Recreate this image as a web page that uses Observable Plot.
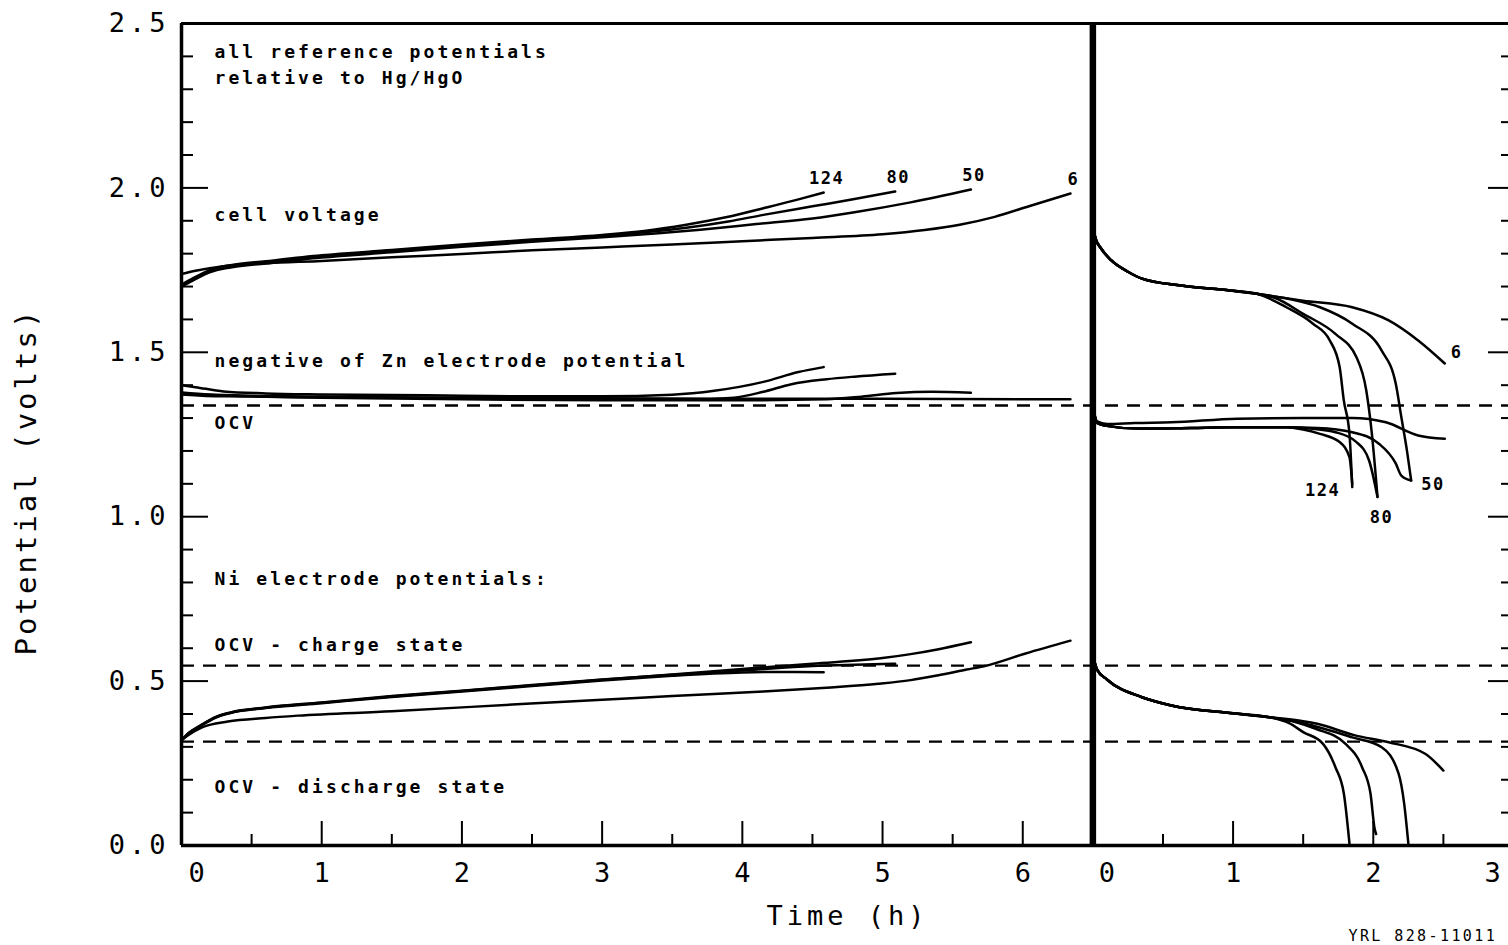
<!DOCTYPE html>
<html>
<head>
<meta charset="utf-8">
<script src="https://cdn.jsdelivr.net/npm/d3@7"></script>
<script src="https://cdn.jsdelivr.net/npm/@observablehq/plot@0.6"></script>
<style>
html, body { margin: 0; padding: 0; background: #fff; overflow: hidden; }
#chart svg { display: block; background: #fff; }
</style>
</head>
<body>
<div id="chart"></div>
<script>
// ---------------- DATA (time in h, potential in V) ----------------
const cycles = ["124", "80", "50", "6"];

// Charge: cell voltage
const cellCharge124 = [[0,1.706],[0.08,1.725],[0.2,1.75],[0.35,1.765],[0.6,1.777],[1,1.795],[1.5,1.811],[2,1.828],[2.5,1.843],[3,1.857],[3.3,1.869],[3.6,1.888],[3.9,1.912],[4.15,1.938],[4.4,1.965],[4.58,1.986]];
const cellCharge80  = [[0,1.703],[0.08,1.722],[0.2,1.747],[0.35,1.762],[0.6,1.774],[1,1.792],[1.5,1.808],[2,1.825],[2.5,1.84],[3,1.854],[3.3,1.865],[3.6,1.879],[3.9,1.898],[4.15,1.918],[4.5,1.944],[4.8,1.966],[5.09,1.989]];
const cellCharge50  = [[0,1.70],[0.08,1.718],[0.2,1.743],[0.35,1.758],[0.6,1.77],[1,1.788],[1.5,1.804],[2,1.821],[2.5,1.836],[3,1.85],[3.4,1.862],[3.7,1.873],[4.1,1.89],[4.5,1.907],[4.8,1.926],[5.2,1.956],[5.63,1.995]];
const cellCharge6   = [[0,1.738],[0.1,1.748],[0.3,1.762],[0.6,1.771],[1,1.778],[1.5,1.789],[2,1.799],[2.5,1.81],[3,1.819],[3.5,1.828],[4,1.838],[4.5,1.848],[5,1.859],[5.3,1.872],[5.55,1.888],[5.8,1.912],[6.05,1.945],[6.34,1.983]];

// Charge: negative of Zn electrode potential
const znCharge124 = [[0,1.40],[0.1,1.394],[0.3,1.381],[0.6,1.375],[1,1.372],[1.5,1.37],[2,1.368],[2.5,1.366],[3,1.366],[3.5,1.371],[3.8,1.383],[4.15,1.41],[4.4,1.44],[4.58,1.455]];
const znCharge80  = [[0,1.378],[0.2,1.372],[0.5,1.368],[1,1.365],[2,1.36],[3,1.356],[3.6,1.356],[3.94,1.362],[4.15,1.38],[4.35,1.403],[4.6,1.418],[4.8,1.426],[5.09,1.435]];
const znCharge50  = [[0,1.375],[0.2,1.37],[0.5,1.366],[1,1.362],[2,1.357],[3,1.354],[4,1.354],[4.6,1.357],[4.85,1.365],[5.1,1.376],[5.35,1.38],[5.63,1.377]];
const znCharge6   = [[0,1.372],[0.3,1.366],[1,1.364],[2,1.362],[3,1.36],[4,1.359],[5,1.359],[6.34,1.357]];

// Charge: Ni electrode potential
const niCharge124 = [[0,0.32],[0.05,0.34],[0.13,0.362],[0.25,0.39],[0.35,0.403],[0.6,0.418],[1,0.433],[1.5,0.452],[2,0.468],[2.5,0.485],[3,0.502],[3.5,0.516],[4,0.526],[4.3,0.528],[4.58,0.527]];
const niCharge80  = [[0,0.32],[0.05,0.342],[0.13,0.364],[0.25,0.392],[0.35,0.405],[0.6,0.42],[1,0.435],[1.5,0.455],[2,0.471],[2.5,0.488],[3,0.505],[3.5,0.519],[4,0.532],[4.5,0.546],[4.8,0.55],[5.09,0.553]];
const niCharge50  = [[0,0.32],[0.05,0.341],[0.13,0.363],[0.25,0.391],[0.35,0.404],[0.6,0.419],[1,0.434],[1.5,0.453],[2,0.47],[2.5,0.487],[3,0.504],[3.5,0.52],[4,0.537],[4.5,0.553],[5,0.57],[5.2,0.582],[5.4,0.597],[5.63,0.618]];
const niCharge6   = [[0,0.32],[0.05,0.336],[0.15,0.36],[0.33,0.377],[0.6,0.388],[0.83,0.395],[1.5,0.408],[2.49,0.432],[3,0.443],[3.5,0.455],[4.15,0.468],[4.6,0.48],[4.97,0.492],[5.2,0.503],[5.39,0.517],[5.6,0.535],[5.73,0.546],[6.02,0.584],[6.34,0.623]];

// Discharge: cell voltage
const cellDisStart = [[0,1.88],[0.02,1.845],[0.06,1.815],[0.13,1.78],[0.25,1.745],[0.35,1.724],[0.63,1.703],[0.98,1.688],[1.17,1.678]];
const cellDis124 = [...cellDisStart, [1.38,1.637],[1.57,1.587],[1.69,1.536],[1.76,1.455],[1.79,1.353],[1.83,1.252],[1.85,1.09]];
const cellDis80  = [...cellDisStart, [1.3,1.665],[1.5,1.617],[1.73,1.556],[1.88,1.485],[1.95,1.384],[1.99,1.252],[2.03,1.06]];
const cellDis50  = [...cellDisStart, [1.4,1.662],[1.62,1.637],[1.85,1.587],[2.06,1.505],[2.16,1.405],[2.2,1.303],[2.24,1.201],[2.27,1.11]];
const cellDis6   = [...cellDisStart, [1.5,1.657],[1.85,1.637],[2.11,1.597],[2.32,1.536],[2.51,1.466]];

// Discharge: negative of Zn electrode potential
const znDisStart = [[0,1.335],[0.03,1.285],[0.085,1.277],[0.32,1.268],[0.7,1.27],[1.0,1.272],[1.38,1.272]];
const znDis124 = [...znDisStart, [1.5,1.265],[1.62,1.252],[1.76,1.227],[1.83,1.181],[1.85,1.10]];
const znDis80  = [...znDisStart, [1.55,1.268],[1.73,1.257],[1.88,1.227],[1.97,1.171],[2.03,1.06]];
const znDis50  = [...znDisStart, [1.6,1.27],[1.85,1.257],[2.04,1.222],[2.16,1.162],[2.2,1.125],[2.27,1.11]];
const znDis6   = [[0,1.335],[0.03,1.29],[0.1,1.282],[0.3,1.285],[0.56,1.287],[1.03,1.298],[1.5,1.30],[1.85,1.30],[2.09,1.287],[2.32,1.247],[2.51,1.237]];

// Discharge: Ni electrode potential
const niDisStart = [[0,0.578],[0.03,0.535],[0.1,0.505],[0.35,0.451],[0.56,0.426],[1.0,0.402],[1.26,0.39]];
const niDis124 = [...niDisStart, [1.4,0.372],[1.5,0.345],[1.64,0.31],[1.73,0.238],[1.79,0.158],[1.83,0.006]];
const niDis80  = [...niDisStart, [1.45,0.375],[1.59,0.355],[1.8,0.31],[1.92,0.238],[1.98,0.158],[2.01,0.05],[2.02,0.035]];
const niDis50  = [...niDisStart, [1.5,0.372],[1.85,0.329],[2.06,0.299],[2.18,0.219],[2.22,0.128],[2.25,0.006]];
const niDis6   = [...niDisStart, [1.5,0.378],[1.6,0.37],[1.87,0.335],[2.11,0.314],[2.37,0.279],[2.5,0.228]];

// Reference (OCV) levels
const ocvZn = 1.338;
const ocvNiCharged = 0.547;
const ocvNiDischarged = 0.316;

// Axis ticks / labels
const yTickLabels = [0, 0.5, 1.0, 1.5, 2.0, 2.5];
const chargeTickLabels = [0, 1, 2, 3, 4, 5, 6];
const dischargeTickLabels = [0, 1, 2, 3];

const notes = ["all reference potentials", "relative to Hg/HgO", "cell voltage",
  "negative of Zn electrode potential", "OCV", "Ni electrode potentials:",
  "OCV - charge state", "OCV - discharge state"];
const xTitle = "Time (h)";
const yTitle = "Potential (volts)";
const refCode = "YRL 828-11011";

// ---------------- LAYOUT ----------------
const W = 1508, H = 945;
const mL = 181, mR = -5, mT = 23, mB = 100;
const CHARGE_SPAN = 6.5;          // hours shown in the charge panel
const X_MAX = CHARGE_SPAN + 3;    // discharge panel shows 0..3 h
const Y_MAX = 2.5;
const pxPerH = (W - mL - mR) / X_MAX;
const pxPerV = (H - mT - mB) / Y_MAX;
const hx = px => px / pxPerH;     // pixel length -> hours
const vy = px => px / pxPerV;     // pixel length -> volts

const seriesDefs = [
  ["charge","cell","124",cellCharge124],["charge","cell","80",cellCharge80],["charge","cell","50",cellCharge50],["charge","cell","6",cellCharge6],
  ["charge","zn","124",znCharge124],["charge","zn","80",znCharge80],["charge","zn","50",znCharge50],["charge","zn","6",znCharge6],
  ["charge","ni","124",niCharge124],["charge","ni","80",niCharge80],["charge","ni","50",niCharge50],["charge","ni","6",niCharge6],
  ["discharge","cell","124",cellDis124],["discharge","cell","80",cellDis80],["discharge","cell","50",cellDis50],["discharge","cell","6",cellDis6],
  ["discharge","zn","124",znDis124],["discharge","zn","80",znDis80],["discharge","zn","50",znDis50],["discharge","zn","6",znDis6],
  ["discharge","ni","124",niDis124],["discharge","ni","80",niDis80],["discharge","ni","50",niDis50],["discharge","ni","6",niDis6]
];
const rows = seriesDefs.flatMap(([panel, kind, cycle, pts]) =>
  pts.map(([t, v]) => ({key: `${panel}-${kind}-${cycle}`, panel, kind, cycle,
    x: (panel === "discharge" ? CHARGE_SPAN : 0) + t, y: v})));
const endOf = (panel, kind, cycle) => {
  const r = rows.filter(d => d.panel === panel && d.kind === kind && d.cycle === cycle);
  return r[r.length - 1];
};

// ticks
const yTicks = d3.range(1, 25).map(i => i / 10);
const yMajor = yTicks.filter(v => Math.abs(v * 2 - Math.round(v * 2)) < 1e-9);
const yMinor = yTicks.filter(v => !yMajor.includes(v));
const chargeMajor = chargeTickLabels.filter(t => t > 0);
const chargeMinor = d3.range(0, 6).map(i => i + 0.5);
const disMajor = dischargeTickLabels.filter(t => t > 0 && t < 3).map(t => CHARGE_SPAN + t);
const disMinor = [0.5, 1.5, 2.5].map(t => CHARGE_SPAN + t);

const MONO = "DejaVu Sans Mono, Liberation Mono, monospace";
const tickFont = {fontFamily: MONO, fontSize: 27, fill: "black"};
const noteFont = {fontFamily: MONO, fontSize: 18, fontWeight: "bold", fill: "black"};
const labelFont = {fontFamily: MONO, fontSize: 17, fontWeight: "bold", fill: "black"};

const noteBaselines = [57, 83, 220, 366, 428, 584, 650, 792];
const noteMarks = notes.map((s, i) => Plot.text([s], {
  frameAnchor: "top-left", text: d => d, dx: 214 - mL, dy: noteBaselines[i] - mT,
  textAnchor: "start", lineAnchor: "bottom", ...noteFont
}));

const chargeLabelMarks = cycles.map(c => {
  const e = endOf("charge", "cell", c);
  return Plot.text([e], {x: "x", y: "y", text: () => c, dx: 3, dy: -14,
    textAnchor: "middle", lineAnchor: "middle", ...labelFont});
});
const disLabelOffsets = {"6": [6, -11, "start"], "124": [-12, 3, "end"], "80": [4, 21, "middle"], "50": [10, 4, "start"]};
const disLabelMarks = cycles.map(c => {
  const e = endOf("discharge", "cell", c);
  const [dx, dy, anchor] = disLabelOffsets[c];
  return Plot.text([e], {x: "x", y: "y", text: () => c, dx, dy,
    textAnchor: anchor, lineAnchor: "middle", ...labelFont});
});

const plot = Plot.plot({
  width: W, height: H,
  marginLeft: mL, marginRight: mR, marginTop: mT, marginBottom: mB,
  x: {domain: [0, X_MAX], axis: null},
  y: {domain: [0, Y_MAX], axis: null},
  style: {background: "white", overflow: "hidden"},
  marks: [
    // OCV dashed levels
    Plot.ruleY([ocvZn, ocvNiCharged, ocvNiDischarged], {y: d => d, stroke: "black", strokeWidth: 2.4, strokeDasharray: "13,9"}),
    // curves
    Plot.line(rows, {x: "x", y: "y", z: "key", stroke: "black", strokeWidth: 2.5, curve: "monotone-x"}),
    // frame
    Plot.ruleX([0], {stroke: "black", strokeWidth: 3.5}),
    Plot.ruleY([0], {stroke: "black", strokeWidth: 3.5}),
    Plot.ruleY([Y_MAX], {stroke: "black", strokeWidth: 3}),
    Plot.ruleX([CHARGE_SPAN], {stroke: "black", strokeWidth: 6.5}),
    // left ticks
    Plot.ruleY(yMinor, {y: d => d, x1: 0, x2: hx(12), stroke: "black", strokeWidth: 2}),
    Plot.ruleY(yMajor, {y: d => d, x1: 0, x2: hx(27), stroke: "black", strokeWidth: 2}),
    // right ticks
    Plot.ruleY(yMinor, {y: d => d, x1: X_MAX - hx(12), x2: X_MAX, stroke: "black", strokeWidth: 2}),
    Plot.ruleY(yMajor, {y: d => d, x1: X_MAX - hx(25), x2: X_MAX, stroke: "black", strokeWidth: 2}),
    // bottom ticks
    Plot.ruleX([...chargeMajor, ...disMajor], {x: d => d, y1: 0, y2: vy(24), stroke: "black", strokeWidth: 2}),
    Plot.ruleX([...chargeMinor, ...disMinor], {x: d => d, y1: 0, y2: vy(11), stroke: "black", strokeWidth: 2}),
    // y tick labels
    Plot.text(yTickLabels, {x: 0, y: d => d, text: d => d.toFixed(1), dx: -12, textAnchor: "end",
      lineAnchor: "middle", ...tickFont}),
    // x tick labels (charge)
    Plot.text(chargeTickLabels.filter(t => t > 0), {x: d => d, y: 0, text: d => String(d), dx: 2, dy: 28,
      textAnchor: "middle", lineAnchor: "middle", ...tickFont}),
    Plot.text(chargeTickLabels.filter(t => t === 0), {x: d => d, y: 0, text: d => String(d), dx: 17, dy: 28,
      textAnchor: "middle", lineAnchor: "middle", ...tickFont}),
    // x tick labels (discharge)
    Plot.text(dischargeTickLabels.filter(t => t > 0 && t < 3), {x: d => CHARGE_SPAN + d, y: 0, text: d => String(d), dx: 2, dy: 28,
      textAnchor: "middle", lineAnchor: "middle", ...tickFont}),
    Plot.text(dischargeTickLabels.filter(t => t === 0), {x: d => CHARGE_SPAN + d, y: 0, text: d => String(d), dx: 16, dy: 28,
      textAnchor: "middle", lineAnchor: "middle", ...tickFont}),
    Plot.text(dischargeTickLabels.filter(t => t === 3), {x: d => CHARGE_SPAN + d, y: 0, text: d => String(d), dx: -19, dy: 28,
      textAnchor: "middle", lineAnchor: "middle", ...tickFont}),
    // notes and curve labels
    ...noteMarks,
    ...chargeLabelMarks,
    ...disLabelMarks,
    // axis titles
    Plot.text([xTitle], {frameAnchor: "bottom", text: d => d, dx: 0, dy: 71, lineAnchor: "middle",
      textAnchor: "middle", ...tickFont}),
    Plot.text([yTitle], {frameAnchor: "left", text: d => d, dx: 26 - mL, dy: 481 - (mT + (H - mT - mB) / 2),
      rotate: -90, lineAnchor: "middle", textAnchor: "middle", fontFamily: MONO, fontSize: 29, fill: "black"}),
    Plot.text([refCode], {frameAnchor: "bottom-right", text: d => d, dx: 1348 - (W - mR), dy: 936 - (H - mB),
      textAnchor: "start", lineAnchor: "middle", fontFamily: MONO, fontSize: 15, fill: "black"})
  ]
});

// letter spacing of the plotter-style lettering, keyed by font size
const spacing = {"27": "4px", "18": "3.1px", "17": "1.5px", "29": "3px", "15": "2.4px"};
d3.select(plot).selectAll("g[font-size]").each(function () {
  const s = spacing[this.getAttribute("font-size")];
  if (s) d3.select(this).selectAll("text").style("letter-spacing", s);
});
document.getElementById("chart").appendChild(plot);
</script>
</body>
</html>
